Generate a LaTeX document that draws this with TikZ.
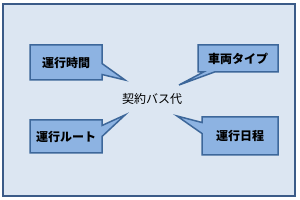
\documentclass[tikz,border=0pt]{standalone}
\usepackage{fontspec}
\newfontfamily\jpfont{Noto Sans CJK JP}
\usepackage{xcolor}
\definecolor{frameFill}{HTML}{DCE6F2}
\definecolor{frameLine}{HTML}{3B5B88}
\definecolor{boxFill}{HTML}{8DB3E2}
\definecolor{boxLine}{HTML}{3D679A}
\usetikzlibrary{shapes.callouts}

\tikzset{
  itembox/.style={rectangle callout, fill=boxFill, draw=boxLine, line width=1.5pt,
    inner sep=0pt, callout pointer width=11pt,
    font=\jpfont\bfseries\fontsize{12}{14}\selectfont}
}

\begin{document}
\begin{tikzpicture}[x=1pt, y=-1pt]
  \useasboundingbox (0,0) rectangle (300,200);
  \filldraw[fill=frameFill, draw=frameLine, line width=2pt] (3,4) rectangle (295,196);
  % centre label and the tips of the callouts
  \node[font=\jpfont\fontsize{12}{14}\selectfont] (fee) at (152,99) {契約バス代};
  \coordinate (tipTime) at (125,80);
  \coordinate (tipType) at (179,85);
  \coordinate (tipRoute) at (125,115);
  \coordinate (tipDate) at (177,116);
  % callouts
  \node[itembox, minimum width=72pt, minimum height=35pt, callout absolute pointer=(tipTime)] (time) at (66,62.5) {運行時間};
  \node[itembox, minimum width=80pt, minimum height=27pt, callout absolute pointer=(tipType)] (type) at (238,58.5) {車両タイプ};
  \node[itembox, minimum width=72pt, minimum height=33pt, callout absolute pointer=(tipRoute)] (route) at (66,136.5) {運行ルート};
  \node[itembox, minimum width=76pt, minimum height=38pt, callout absolute pointer=(tipDate)] (date) at (240,136) {運行日程};
\end{tikzpicture}
\end{document}
